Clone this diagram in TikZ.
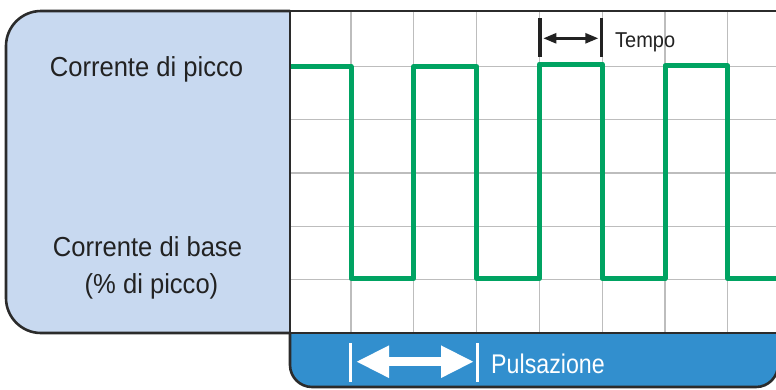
\documentclass[tikz,border=0pt]{standalone}
\usepackage{fontspec}
\setmainfont{Liberation Sans}
\newfontfamily\labelfont[FakeStretch=0.93]{Liberation Sans}
\newfontfamily\barfont[FakeStretch=0.86]{Liberation Sans}
\usetikzlibrary{arrows.meta}

\definecolor{panelblue}{HTML}{C8D9F0}
\definecolor{barblue}{HTML}{328FCE}
\definecolor{frame}{HTML}{2B2B2B}
\definecolor{gridgray}{HTML}{BDBDBD}
\definecolor{wave}{HTML}{00A362}
\definecolor{ink}{HTML}{222222}

\tikzset{
  frameline/.style={draw=frame, line width=2.6pt},
  gridline/.style={draw=gridgray, line width=1.1pt},
  waveline/.style={draw=wave, line width=5pt, line join=round},
  lbl/.style={inner sep=0pt, text=ink, font=\labelfont\fontsize{27.5}{33}\selectfont},
  smalllbl/.style={inner sep=0pt, text=ink, font=\labelfont\fontsize{21.5}{26}\selectfont},
  barlbl/.style={inner sep=0pt, text=white, font=\barfont\fontsize{27}{32}\selectfont},
  tickbar/.style={line width=3.6pt},
}

\begin{document}
\begin{tikzpicture}[x=1pt, y=-1pt]
\useasboundingbox (0,0) rectangle (776,389);

% left label panel (rounded on the left side only)
\begin{scope}
  \clip (0,0) rectangle (290,389);
  \fill[panelblue, rounded corners=35pt] (6,11) rectangle (340,333);
  \draw[frameline, rounded corners=35pt] (6,11) rectangle (340,333);
\end{scope}

% bottom bar (rounded at the bottom)
\begin{scope}
  \clip (280,333) rectangle (790,395);
  \fill[barblue, rounded corners=22pt] (290,290) rectangle (778,387);
  \draw[frameline, rounded corners=22pt] (290,290) rectangle (778,387);
\end{scope}

% plot area
\fill[white] (290,11) rectangle (778,333);
\foreach \gx in {351,413.8,476.6,539.4,602.2,665,727.8}
  \draw[gridline] (\gx,11) -- (\gx,333);
\foreach \gy in {66.5,119.7,173,226.3,279.5}
  \draw[gridline] (290,\gy) -- (778,\gy);

% pulsed current waveform
\draw[waveline] (291,66.5) -- (351,66.5) -- (351,278.5) -- (413.8,278.5)
  -- (413.8,66.5) -- (476.6,66.5) -- (476.6,278.5) -- (539.4,278.5)
  -- (539.4,64) -- (602.2,64) -- (602.2,278.5) -- (665,278.5)
  -- (665,65.8) -- (727.8,65.8) -- (727.8,278.5) -- (778,278.5);

% plot frame
\draw[frameline] (290,11) rectangle (778,333);

% labels of the levels
\node[lbl, anchor=base] (peak) at (146.5,76.7) {Corrente di picco};
\node[lbl, anchor=base] (base) at (147.5,256.5) {Corrente di base};
\node[lbl, anchor=base] (basepct) at (151.5,293) {(\% di picco)};

% time marker
\coordinate (t1top) at (539.7,18.3);
\coordinate (t1bot) at (539.7,56.7);
\coordinate (t2top) at (601.5,18.3);
\coordinate (t2bot) at (601.5,56.7);
\coordinate (tl) at (543.3,38.3);
\coordinate (tr) at (598.3,38.3);
\draw[tickbar, draw=ink] (t1top) -- (t1bot);
\draw[tickbar, draw=ink] (t2top) -- (t2bot);
\draw[line width=2.5pt, draw=ink, {Triangle[length=13pt,width=10pt]}-{Triangle[length=13pt,width=10pt]}] (tl) -- (tr);
\node[smalllbl, anchor=base west] (tempo) at (615,47.7) {Tempo};

% pulse marker
\coordinate (p1top) at (350.3,343);
\coordinate (p1bot) at (350.3,382);
\coordinate (p2top) at (477.3,343);
\coordinate (p2bot) at (477.3,382);
\coordinate (pl) at (356,361.7);
\coordinate (pr) at (474,361.7);
\draw[tickbar, draw=white] (p1top) -- (p1bot);
\draw[tickbar, draw=white] (p2top) -- (p2bot);
\draw[line width=9pt, draw=white, {Triangle[length=33pt,width=30pt]}-{Triangle[length=33pt,width=30pt]}] (pl) -- (pr);
\node[barlbl, anchor=base west] (pulse) at (491,373.5) {Pulsazione};
\end{tikzpicture}
\end{document}
